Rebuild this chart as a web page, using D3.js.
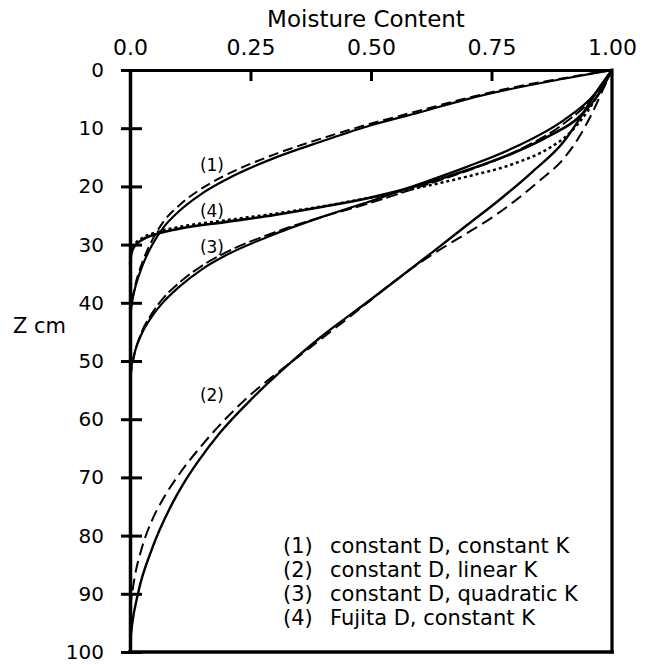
<!DOCTYPE html>
<html>
<head>
<meta charset="utf-8">
<script src="https://cdn.jsdelivr.net/npm/d3@7"></script>
<style>
  html, body { margin: 0; padding: 0; background: #fff; }
  svg { display: block; }
  text { font-family: "DejaVu Sans", Verdana, sans-serif; fill: #000; }
</style>
</head>
<body>
<div id="chart"></div>
<script>
// ---------------- data ----------------
const xTickValues = [0, 0.25, 0.5, 0.75, 1];
const xTickLabels = ["0.0", "0.25", "0.50", "0.75", "1.00"];
const yTickValues = [0, 10, 20, 30, 40, 50, 60, 70, 80, 90, 100];
const yTickLabels = ["0", "10", "20", "30", "40", "50", "60", "70", "80", "90", "100"];

// [moisture content, depth z (cm)]
const curve1Solid = [[1,0],[0.9,1.5],[0.8,3.1],[0.7,5.0],[0.6,7.3],[0.5,9.5],[0.4,12.2],[0.3,15.1],[0.2,18.8],[0.15,21.2],[0.1,24.4],[0.07,27.0],[0.045,30.2],[0.025,33.8],[0.012,37.0],[0.004,40.0],[0,42.5]];
const curve1Dashed = [[1,0],[0.9,1.4],[0.8,2.9],[0.7,4.8],[0.6,7.0],[0.5,9.2],[0.4,11.7],[0.3,14.5],[0.2,18.0],[0.15,20.3],[0.1,23.4],[0.07,26.0],[0.045,29.4],[0.025,33.2],[0.012,36.6],[0.004,39.8],[0,42]];
const curve2Solid = [[1,0],[0.965,4.1],[0.934,8.2],[0.9,12.3],[0.836,17.4],[0.768,22.2],[0.7,26.6],[0.629,31.2],[0.56,35.6],[0.492,39.9],[0.394,46.0],[0.326,50.8],[0.255,56.3],[0.187,62.3],[0.141,67.3],[0.11,71.2],[0.087,74.6],[0.046,82.2],[0.017,89.8],[0.004,95.5],[0,98.5]];
const curve2Dashed = [[1,0],[0.98,3.6],[0.96,7.2],[0.934,11.2],[0.9,15.2],[0.85,19.0],[0.8,22.4],[0.75,25.4],[0.7,28.0],[0.65,30.5],[0.6,33.2],[0.55,36.2],[0.5,39.5],[0.45,42.8],[0.4,46.0],[0.35,49.2],[0.3,52.4],[0.25,55.8],[0.2,59.8],[0.15,64.4],[0.1,69.7],[0.07,73.5],[0.045,77.5],[0.025,82.0],[0.01,87.0],[0,92.5]];
const curve3Solid = [[1,0],[0.96,4.5],[0.9,8.6],[0.8,13.2],[0.7,16.6],[0.6,19.6],[0.5,22.5],[0.4,25.2],[0.3,28.2],[0.2,31.8],[0.15,34.2],[0.1,37.4],[0.07,39.8],[0.045,42.4],[0.025,45.2],[0.01,48.4],[0,52]];
const curve3Dashed = [[1,0],[0.96,4.8],[0.9,9.2],[0.8,14.0],[0.7,17.3],[0.6,20.1],[0.5,22.8],[0.4,25.2],[0.3,27.9],[0.2,31.3],[0.15,33.6],[0.1,36.7],[0.07,39.1],[0.045,41.9],[0.025,44.9],[0.01,48.6],[0,53]];
const curve4Solid = [[1,0],[0.975,3.8],[0.93,8.2],[0.87,11.3],[0.8,14.1],[0.7,17.2],[0.6,19.8],[0.5,21.9],[0.4,23.5],[0.3,24.9],[0.2,26.1],[0.1,27.3],[0.05,28.3],[0.025,29.2],[0.01,30.2],[0.003,31.5],[0,33.5]];
const curve4Dotted = [[1,0],[0.98,3],[0.95,7.0],[0.91,11.0],[0.87,13.4],[0.8,16.0],[0.7,18.3],[0.6,20.2],[0.5,21.9],[0.4,23.4],[0.3,24.7],[0.2,25.8],[0.1,27.0],[0.05,28.0],[0.025,28.9],[0.01,29.9],[0,31.5]];

const curveLabels = [
  { text: "(1)", theta: 0.145, z: 16.3 },
  { text: "(4)", theta: 0.145, z: 24.2 },
  { text: "(3)", theta: 0.145, z: 30.4 },
  { text: "(2)", theta: 0.145, z: 55.8 }
];
const legendKeys = ["(1)", "(2)", "(3)", "(4)"];
const legendTexts = ["constant D, constant K", "constant D, linear K", "constant D, quadratic K", "Fujita D, constant K"];

// ---------------- layout ----------------
const W = 651, H = 665;
const FONT = '"DejaVu Sans", Verdana, sans-serif';
const svg = d3.select("#chart").append("svg").attr("width", W).attr("height", H);

const x = d3.scaleLinear().domain([0, 1]).range([130, 612]);
const y = d3.scaleLinear().domain([0, 100]).range([70, 652]);

// title
svg.append("text").attr("x", 366).attr("y", 27).attr("text-anchor", "middle")
  .attr("font-size", 23).text("Moisture Content");

// Z cm
svg.append("text").attr("x", 13).attr("y", 326).attr("dominant-baseline", "central")
  .attr("font-size", 21).text("Z cm");

// curves
const line = d3.line().x(d => x(d[0])).y(d => y(d[1])).curve(d3.curveMonotoneX);
const asc = arr => arr.slice().sort((a, b) => a[0] - b[0]);
const series = [
  { data: curve1Dashed, dash: "10,5", w: 2 },
  { data: curve1Solid, dash: null, w: 2.2 },
  { data: curve2Dashed, dash: "12,6", w: 2 },
  { data: curve2Solid, dash: null, w: 2.4 },
  { data: curve3Dashed, dash: "12,4", w: 2 },
  { data: curve3Solid, dash: null, w: 2.2 },
  { data: curve4Dotted, dash: "3,3", w: 2.5 },
  { data: curve4Solid, dash: null, w: 2.6 }
];
svg.append("g").selectAll("path").data(series).join("path")
  .attr("d", d => line(asc(d.data)))
  .attr("fill", "none").attr("stroke", "#000")
  .attr("stroke-width", d => d.w)
  .attr("stroke-dasharray", d => d.dash);

// top axis (labels)
const topAxis = svg.append("g").attr("transform", `translate(0,${y(0)})`)
  .call(d3.axisTop(x).tickValues(xTickValues).tickFormat((d, i) => xTickLabels[i])
    .tickSize(0).tickSizeOuter(0).tickPadding(15));
topAxis.select(".domain").attr("stroke-width", 3.2).attr("stroke", "#000");
topAxis.selectAll("text").attr("font-size", 22).attr("font-family", FONT);

// top axis inner ticks
const topTicks = svg.append("g").attr("transform", `translate(0,${y(0)})`)
  .call(d3.axisTop(x).tickValues(xTickValues.slice(1, -1)).tickFormat("")
    .tickSize(-11).tickSizeOuter(0));
topTicks.select(".domain").remove();
topTicks.selectAll("line").attr("stroke-width", 3).attr("stroke", "#000");

// left axis
const leftAxis = svg.append("g").attr("transform", `translate(${x(0)},0)`)
  .call(d3.axisLeft(y).tickValues(yTickValues).tickFormat((d, i) => yTickLabels[i])
    .tickSize(8).tickSizeOuter(0).tickPadding(18));
leftAxis.select(".domain").attr("stroke-width", 3.5).attr("stroke", "#000");
leftAxis.selectAll(".tick line").attr("x1", 12).attr("x2", -9)
  .attr("stroke-width", 3).attr("stroke", "#000");
leftAxis.selectAll("text").attr("font-size", 20).attr("font-family", FONT);

// right and bottom frame lines
svg.append("line").attr("x1", x(1)).attr("x2", x(1)).attr("y1", y(0)).attr("y2", y(100))
  .attr("stroke", "#000").attr("stroke-width", 3.2).attr("stroke-linecap", "square");
svg.append("line").attr("x1", x(0)).attr("x2", x(1)).attr("y1", y(100)).attr("y2", y(100))
  .attr("stroke", "#000").attr("stroke-width", 3.5).attr("stroke-linecap", "square");

// curve labels
svg.append("g").selectAll("text").data(curveLabels).join("text")
  .attr("x", d => x(d.theta)).attr("y", d => y(d.z))
  .attr("dominant-baseline", "central").attr("font-size", 17)
  .text(d => d.text);

// legend
const lg = svg.append("g");
legendKeys.forEach((k, i) => {
  const cy = 546 + i * 24;
  lg.append("text").attr("x", 283).attr("y", cy).attr("dominant-baseline", "central")
    .attr("font-size", 21).text(k);
  lg.append("text").attr("x", 330).attr("y", cy).attr("dominant-baseline", "central")
    .attr("font-size", 21).text(legendTexts[i]);
});
</script>
</body>
</html>
